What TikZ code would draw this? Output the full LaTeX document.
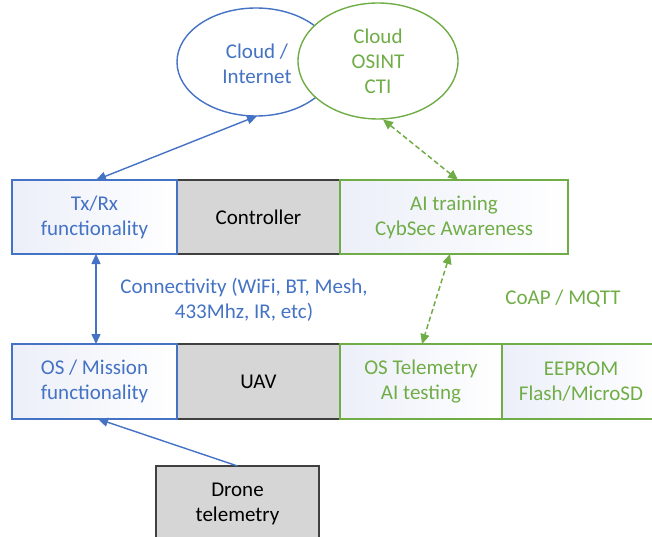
\documentclass[tikz,border=0pt]{standalone}
\usepackage{fontspec}
\setmainfont{Carlito}
\usetikzlibrary{shapes.geometric,arrows.meta}
\definecolor{oblue}{HTML}{4472C4}
\definecolor{ogreen}{HTML}{70AD47}
\definecolor{ogray}{HTML}{D6D6D6}
\definecolor{odark}{HTML}{404040}
\definecolor{tint}{HTML}{ECEFF9}
\begin{document}
\begin{tikzpicture}[x=1pt,y=-1pt,
  >={Triangle[length=10pt,width=9pt]},
  every node/.style={font=\fontsize{21}{25}\selectfont, align=center, inner sep=0pt, outer sep=0pt},
  bbox/.style={draw=oblue, line width=1.4pt, left color=tint, right color=white, text=oblue},
  gbox/.style={draw=ogreen, line width=1.4pt, left color=tint, right color=white, text=ogreen},
  graybox/.style={draw=odark, line width=1.4pt, fill=ogray, text=black},
  blueline/.style={draw=oblue, line width=1.4pt},
  greenline/.style={draw=ogreen, line width=1.5pt, dash pattern=on 5pt off 3pt}
]
\useasboundingbox (0,0) rectangle (652,537);
\clip (0,0) rectangle (652,537);

% ellipses
\node[ellipse, draw=oblue, line width=1.4pt, fill=white, text=oblue,
      minimum width=158pt, minimum height=108pt] (cloud) at (256,62) {};
\node[text=oblue] (cloudtxt) at (257,64) {Cloud /\\Internet};
\node[ellipse, draw=ogreen, line width=1.4pt, fill=white, text=ogreen,
      minimum width=160pt, minimum height=116pt] (osint) at (378,61) {Cloud\\OSINT\\CTI};

% top row
\node[graybox, minimum width=163pt, minimum height=74pt] (ctrl) at (258.5,217) {Controller};
\node[bbox, minimum width=165pt, minimum height=74pt] (txrx) at (94.5,217) {Tx/Rx\\functionality};
\node[gbox, minimum width=228pt, minimum height=74pt] (aitrain) at (454,217) {AI training\\CybSec Awareness};

% bottom row
\node[graybox, minimum width=163pt, minimum height=75pt] (uav) at (258.5,381.5) {UAV};
\node[bbox, minimum width=165pt, minimum height=75pt] (osm) at (94.5,381.5) {OS / Mission\\functionality};
\node[gbox, minimum width=162pt, minimum height=75pt] (ostel) at (421,381.5) {OS Telemetry\\AI testing};
\node[gbox, minimum width=158pt, minimum height=75pt] (eeprom) at (581,381.5) {EEPROM\\Flash/MicroSD};

% drone
\node[graybox, minimum width=163pt, minimum height=76pt] (drone) at (237.5,504) {Drone\\telemetry};

% labels
\node[text=oblue] (conn) at (244,299.5) {Connectivity (WiFi, BT, Mesh,\\433Mhz, IR, etc)};
\node[text=ogreen] (coap) at (563,299) {CoAP / MQTT};

% connectors
\draw[blueline, <->] ([xshift=1.5pt]txrx.north) -- ([xshift=1pt]cloud.south);
\draw[greenline, <->] ([xshift=4pt]aitrain.north) -- ([xshift=5pt, yshift=-0.5pt]osint.south);
\draw[blueline, <->] ([xshift=1.5pt]txrx.south) -- ([xshift=1.5pt]osm.north);
\draw[greenline, <->] ([xshift=-4pt]aitrain.south) -- ([xshift=1pt]ostel.north);
\draw[blueline, ->] (drone.north) -- ([xshift=3.5pt]osm.south);
\end{tikzpicture}
\end{document}
